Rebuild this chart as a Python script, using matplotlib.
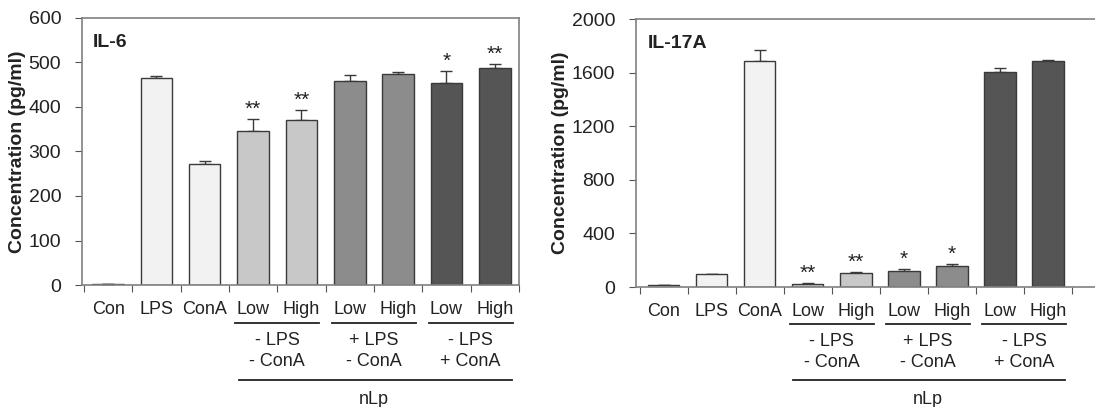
import numpy as np
import matplotlib.pyplot as plt
import matplotlib.transforms as mtransforms

plt.rcParams['font.family'] = ['Liberation Sans', 'DejaVu Sans']

labels = ['Con', 'LPS', 'ConA', 'Low', 'High', 'Low', 'High', 'Low', 'High']
colors = ['#f2f2f2', '#f2f2f2', '#f2f2f2', '#c8c8c8', '#c8c8c8',
          '#8c8c8c', '#8c8c8c', '#555555', '#555555']
groups = [('- LPS\n- ConA', 3, 4), ('+ LPS\n- ConA', 5, 6), ('- LPS\n+ ConA', 7, 8)]

il6 = [2, 466, 273, 346, 370, 459, 474, 455, 487]
il6_err = [1, 4, 6, 28, 24, 13, 4, 26, 10]
il6_stars = ['', '', '', '**', '**', '', '', '*', '**']

il17 = [12, 95, 1686, 25, 105, 122, 160, 1601, 1686]
il17_err = [2, 2, 85, 3, 8, 10, 10, 30, 5]
il17_stars = ['', '', '', '**', '**', '*', '*', '', '']

fig = plt.figure(figsize=(10.95, 4.07), dpi=100)
H = 407.0


def panel(rect, vals, errs, stars, title, ymax, ystep, xlim, ytext, show_right=True):
    ax = fig.add_axes(rect)
    x = np.arange(len(vals))
    ax.bar(x, vals, width=0.65, color=colors, edgecolor='#3a3a3a', linewidth=1, zorder=2)
    ax.errorbar(x, vals, yerr=[np.zeros(len(errs)), errs], fmt='none',
                ecolor='#3a3a3a', elinewidth=1, capsize=4, capthick=1, zorder=1)
    for xi, v, e, s in zip(x, vals, errs, stars):
        if s:
            ax.annotate(s, (xi, v + e), xytext=(0, 0), textcoords='offset points',
                        ha='center', va='bottom', fontsize=15, color='#222222')
    ax.set_ylim(0, ymax)
    ax.set_xlim(*xlim)
    ax.set_yticks(np.arange(0, ymax + 1, ystep))
    ax.set_xticks(np.arange(-0.5, len(vals), 1.0))
    ax.set_xticklabels([])
    ax.tick_params(axis='x', direction='out', length=5, color='#555555')
    ax.tick_params(axis='y', direction='out', length=5, color='#555555',
                   labelsize=14, labelcolor='#222222', pad=10)
    for sp in ax.spines.values():
        sp.set_color('#808080')
        sp.set_linewidth(1.2)
    ax.spines['right'].set_visible(show_right)
    ax.set_ylabel('Concentration (pg/ml)', fontsize=14, fontweight='bold', color='#222222', labelpad=2)
    ax.text(0.025, 0.94, title, transform=ax.transAxes, fontsize=14, fontweight='bold',
            ha='left', va='top', color='#222222')

    tr = mtransforms.blended_transform_factory(ax.transData, fig.transFigure)
    fy = lambda py: 1 - py / H
    for xi, lab in zip(x, labels):
        ax.text(xi, fy(ytext), lab, transform=tr, ha='center', va='center',
                fontsize=13, color='#222222')
    for txt, a, b in groups:
        ax.plot([a - 0.37, b + 0.37], [fy(ytext + 13)] * 2, transform=tr,
                color='#222222', lw=1.3, clip_on=False)
        ax.text((a + b) / 2, fy(ytext + 41), txt, transform=tr, ha='center', va='center',
                fontsize=13, color='#222222', linespacing=1.25)
    ax.plot([2.7, 8.35], [fy(380)] * 2, transform=tr, color='#222222', lw=1.3, clip_on=False)
    ax.text(5.5, fy(399), 'nLp', transform=tr, ha='center', va='center',
            fontsize=13, color='#222222')
    return ax


panel([82 / 1095, 1 - 285 / H, 437 / 1095, 267 / H], il6, il6_err, il6_stars,
      'IL-6', 600, 100, (-0.54, 8.5), 310)
panel([636 / 1095, 1 - 287 / H, 459 / 1095, 268 / H], il17, il17_err, il17_stars,
      'IL-17A', 2000, 400, (-0.58, 8.98), 311, show_right=False)

fig.savefig('out.png', dpi=100)
